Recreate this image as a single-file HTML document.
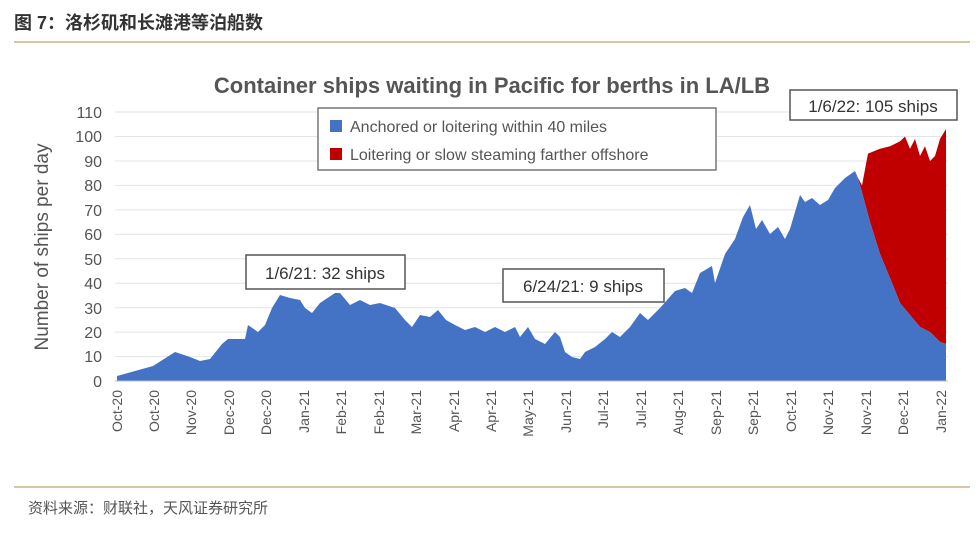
<!DOCTYPE html><html><head><meta charset="utf-8"><style>
body{margin:0;background:#fff;width:980px;height:540px;overflow:hidden;font-family:"Liberation Sans","Noto Sans CJK SC",sans-serif}
</style></head><body>
<svg width="980" height="540" xmlns="http://www.w3.org/2000/svg" font-family="Liberation Sans, Noto Sans CJK SC, sans-serif">
<text x="14" y="29" font-size="18" font-weight="bold" fill="#333">图 7：洛杉矶和长滩港等泊船数</text>
<line x1="14" y1="42" x2="970" y2="42" stroke="#c8b48c" stroke-width="1.5"/>
<text x="492" y="93" font-size="22" font-weight="bold" fill="#555" text-anchor="middle">Container ships waiting in Pacific for berths in LA/LB</text>
<g stroke="#e4e4e4" stroke-width="1">
<line x1="115" x2="948" y1="112" y2="112"/><line x1="115" x2="948" y1="136.5" y2="136.5"/><line x1="115" x2="948" y1="161" y2="161"/><line x1="115" x2="948" y1="185.4" y2="185.4"/><line x1="115" x2="948" y1="209.9" y2="209.9"/><line x1="115" x2="948" y1="234.3" y2="234.3"/><line x1="115" x2="948" y1="258.8" y2="258.8"/><line x1="115" x2="948" y1="283.2" y2="283.2"/><line x1="115" x2="948" y1="307.7" y2="307.7"/><line x1="115" x2="948" y1="332.1" y2="332.1"/><line x1="115" x2="948" y1="356.6" y2="356.6"/>
</g>
<g font-size="16" fill="#555" text-anchor="end">
<text x="102" y="118">110</text><text x="102" y="142">100</text><text x="102" y="167">90</text><text x="102" y="191">80</text><text x="102" y="216">70</text><text x="102" y="240">60</text><text x="102" y="265">50</text><text x="102" y="289">40</text><text x="102" y="314">30</text><text x="102" y="338">20</text><text x="102" y="362">10</text><text x="102" y="387">0</text>
</g>
<text transform="translate(48,247) rotate(-90)" font-size="19" fill="#555" text-anchor="middle">Number of ships per day</text>
<polygon fill="#c00000" points="855,170.7 858,178 862,185.4 868,153.6 880,148.7 890,146.3 900,141.4 905,136.5 910,148.7 915,139 920,156 925,146.3 930,161 935,156 940,139 946,129 946,344 940,342 930,332 920,327 910,315 900,303 890,278 880,254 870,222 860,185"/>
<polygon fill="#4472c4" points="117,381 117,376 135,371 153,366 175,352 190,357 200,361 210,359 222,344 228,339 245,339 248,325 258,332 265,325 272,308 280,295 290,298 300,300 305,308 312,313 320,303 335,293 340,293 350,305 360,300 370,305 380,303 395,308 405,320 412,327 420,315 430,317 438,310 446,320 455,325 465,330 475,327 485,332 495,327 505,332 515,327 520,337 528,327 535,339 545,344 555,332 560,337 565,352 572,357 580,359 585,352 595,347 605,339 612,332 620,337 630,327 640,313 648,320 660,308 675,291 685,288 692,293 700,273 712,266 715,283 725,254 735,239 743,217 750,205 756,229 762,220 770,234 778,227 785,239 790,229 800,195 805,202 812,198 820,205 828,200 835,188 845,178 855,171 860,185 870,222 880,254 890,278 900,303 910,315 920,327 930,332 940,342 946,344 946,381"/>
<line x1="115" y1="381" x2="948" y2="381" stroke="#bbb"/>
<g font-size="14" fill="#555" text-anchor="end">
<text transform="translate(122,390) rotate(-90)">Oct-20</text><text transform="translate(159,390) rotate(-90)">Oct-20</text><text transform="translate(196,390) rotate(-90)">Nov-20</text><text transform="translate(234,390) rotate(-90)">Dec-20</text><text transform="translate(271,390) rotate(-90)">Dec-20</text><text transform="translate(309,390) rotate(-90)">Jan-21</text><text transform="translate(346,390) rotate(-90)">Feb-21</text><text transform="translate(384,390) rotate(-90)">Feb-21</text><text transform="translate(421,390) rotate(-90)">Mar-21</text><text transform="translate(459,390) rotate(-90)">Apr-21</text><text transform="translate(496,390) rotate(-90)">Apr-21</text><text transform="translate(533,390) rotate(-90)">May-21</text><text transform="translate(571,390) rotate(-90)">Jun-21</text><text transform="translate(608,390) rotate(-90)">Jul-21</text><text transform="translate(646,390) rotate(-90)">Jul-21</text><text transform="translate(683,390) rotate(-90)">Aug-21</text><text transform="translate(721,390) rotate(-90)">Sep-21</text><text transform="translate(758,390) rotate(-90)">Sep-21</text><text transform="translate(796,390) rotate(-90)">Oct-21</text><text transform="translate(833,390) rotate(-90)">Nov-21</text><text transform="translate(871,390) rotate(-90)">Nov-21</text><text transform="translate(908,390) rotate(-90)">Dec-21</text><text transform="translate(946,390) rotate(-90)">Jan-22</text>
</g>
<rect x="318" y="108" width="398" height="62" fill="#fff" stroke="#777" stroke-width="1.5"/>
<rect x="330" y="120" width="12" height="12" fill="#4472c4"/>
<text x="350" y="132" font-size="16" fill="#555">Anchored or loitering within 40 miles</text>
<rect x="330" y="148" width="12" height="12" fill="#c00000"/>
<text x="350" y="160" font-size="16" fill="#555">Loitering or slow steaming farther offshore</text>
<rect x="790" y="90" width="167" height="30" fill="#fff" stroke="#555" stroke-width="1.5"/>
<text x="873" y="112" font-size="17" fill="#333" text-anchor="middle">1/6/22: 105 ships</text>
<rect x="246" y="255" width="159" height="34" fill="#fff" stroke="#555" stroke-width="1.5"/>
<text x="325" y="279" font-size="17" fill="#333" text-anchor="middle">1/6/21: 32 ships</text>
<rect x="503" y="269" width="161" height="33" fill="#fff" stroke="#555" stroke-width="1.5"/>
<text x="583" y="292" font-size="17" fill="#333" text-anchor="middle">6/24/21: 9 ships</text>
<line x1="14" y1="487" x2="970" y2="487" stroke="#c8b48c" stroke-width="1.5"/>
<text x="28" y="513" font-size="15" fill="#555">资料来源：财联社，天风证券研究所</text>
</svg>
</body></html>
